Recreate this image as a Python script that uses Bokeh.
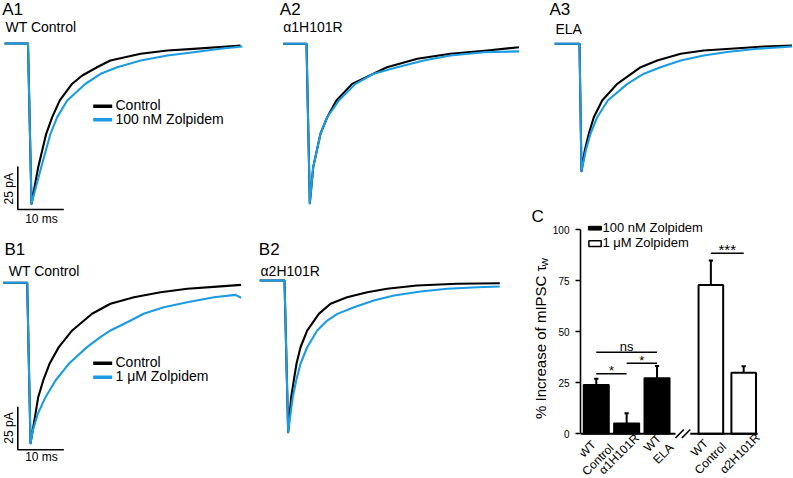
import math
from bokeh.plotting import figure
from bokeh.layouts import column, row
from bokeh.models import FixedTicker, Range1d
from bokeh.core.properties import value
from bokeh.embed import file_html
from bokeh.resources import INLINE

FONT = "Liberation Sans"
BLACK = "#000000"
BLUE = "#1a9be4"

# ---------------- trace data (time in ms, current in pA) ----------------
A1_CTRL_T = [-5.1, 0, 0.76, 2.22, 3.96, 5.26, 6.91, 9.61, 11.8, 15.0, 17.9, 24.5, 30.3, 36.0, 43.3, 46.2]
A1_CTRL_I = [0, 0, -93.2, -71.9, -52.5, -42.8, -33.1, -23.4, -18.6, -13.8, -9.9, -6.0, -4.1, -3.1, -1.7, -1.2]
A1_ZOL_T = [-5.1, 0, 0.76, 2.87, 4.89, 6.35, 8.52, 12.5, 15.8, 19.4, 24.5, 30.3, 36.0, 41.8, 46.6]
A1_ZOL_I = [0, 0, -93.2, -71.9, -52.5, -42.8, -33.1, -23.4, -17.6, -13.8, -9.9, -7.0, -5.1, -3.1, -1.7]

A2_CTRL_T = [-5.07, 0, 0.72, 1.46, 3.04, 4.5, 6.5, 9.93, 17.5, 24.1, 31.3, 39.3, 46.2]
A2_CTRL_I = [0, 0, -92.7, -71.7, -52.3, -42.7, -33.0, -23.3, -13.6, -8.7, -5.8, -3.9, -2.0]
A2_ZOL_T = [-5.07, 0, 0.72, 1.46, 3.04, 4.5, 7.02, 10.65, 14.6, 19.7, 25.5, 31.3, 38.5, 46.2]
A2_ZOL_I = [0, 0, -92.7, -71.7, -52.3, -42.7, -33.0, -23.3, -17.4, -13.6, -9.7, -6.8, -4.9, -4.4]

A3_CTRL_T = [-5.4, 0, 0.43, 1.15, 2.02, 3.11, 4.93, 8.2, 13.3, 16.9, 22.0, 27.0, 32.8, 40.1, 46.2]
A3_CTRL_I = [0, 0, -74.1, -62.0, -52.3, -42.7, -33.0, -23.3, -13.6, -9.7, -5.8, -3.9, -2.9, -1.6, -1.0]
A3_ZOL_T = [-5.4, 0, 0.43, 1.37, 2.39, 3.85, 6.15, 10.4, 14.0, 17.6, 22.0, 27.0, 32.1, 38.6, 46.2]
A3_ZOL_I = [0, 0, -74.1, -62.0, -52.3, -42.7, -33.0, -23.3, -17.4, -13.6, -9.7, -6.8, -4.8, -2.9, -1.6]

B1_CTRL_T = [-5.2, 0, 0.72, 1.8, 2.39, 3.48, 4.85, 6.87, 9.78, 14.1, 18.1, 23.2, 29.0, 34.8, 41.3, 46.5]
B1_CTRL_I = [0, 0, -93.3, -76.2, -66.5, -56.8, -47.1, -37.4, -27.7, -18.0, -12.2, -8.4, -5.5, -3.5, -2.2, -1.2]
B1_ZOL_T = [-5.2, 0, 0.72, 1.22, 2.3, 3.98, 6.15, 9.04, 13.0, 15.9, 18.1, 22.5, 25.3, 29.7, 34.8, 40.6, 45.3, 46.5]
B1_ZOL_I = [0, 0, -93.3, -85.9, -76.2, -66.5, -56.8, -47.1, -37.4, -31.6, -27.7, -21.9, -18.0, -14.2, -11.3, -8.4, -7.0, -8.7]

B2_CTRL_T = [-5.4, 0, 0.8, 1.46, 2.02, 2.61, 3.48, 4.93, 7.46, 10.0, 13.6, 18.0, 22.3, 28.8, 37.5, 46.8]
B2_CTRL_I = [0, 0, -88.2, -67.8, -58.1, -48.4, -38.8, -29.1, -19.4, -13.5, -9.7, -6.8, -4.8, -2.9, -1.9, -1.6]
B2_ZOL_T = [-5.4, 0, 0.8, 1.3, 1.8, 2.54, 3.48, 4.93, 7.1, 9.28, 11.5, 15.1, 19.4, 23.8, 29.6, 35.4, 41.9, 46.8]
B2_ZOL_I = [0, 0, -88.2, -77.5, -67.8, -58.1, -48.4, -38.8, -29.1, -23.3, -19.4, -15.5, -11.6, -8.7, -6.4, -4.8, -3.9, -3.5]

SCALE_MS = 10
SCALE_PA = 25

# ---------------- bar chart data (panel C) ----------------
BAR_LABELS = ["WT\nControl", "\u03b11H101R", "WT\nELA", "WT\nControl", "\u03b12H101R"]
TAU_100NM = [24.0, 5.2, 27.3]
SEM_100NM = [3.0, 4.9, 5.9]
TAU_1UM = [73.0, 29.9]
SEM_1UM = [12.0, 3.2]
SIG_PAIRS = [(0, 1, "*"), (1, 2, "*"), (0, 2, "ns"), (3, 4, "***")]
SIG_LEVEL = [29.4, 34.6, 40.0, 88.5]
Y_TICKS = [0, 25, 50, 75, 100]

# ---------------- layout (page px) ----------------
PAGE_W, PAGE_H = 792, 477

MS_PX = 4.6   # px per ms
PA_PX = 1.72  # px per pA


class TracePanel:
    def __init__(self, pl, pr, pt, pb, onset_px, base_py):
        self.pl, self.pt = pl, pt
        W, H = pr - pl, pb - pt
        self.fx0 = onset_px - pl
        self.fy0 = base_py - pt
        x0 = -self.fx0 / MS_PX
        x1 = (W - self.fx0) / MS_PX
        y1 = self.fy0 / PA_PX
        y0 = -(H - self.fy0) / PA_PX
        self.p = figure(width=W, height=H, x_range=Range1d(x0, x1), y_range=Range1d(y0, y1),
                        x_axis_type=None, y_axis_type=None, toolbar_location=None,
                        output_backend="svg", min_border=0, outline_line_color=None)

    def dx(self, px):
        return (px - self.pl - self.fx0) / MS_PX

    def dy(self, py):
        return -(py - self.pt - self.fy0) / PA_PX

    def text(self, px, py, s, size, align="left", angle=0.0):
        self.p.text(x=[self.dx(px)], y=[self.dy(py)], text=[s], text_font=value(FONT),
                    text_font_size=value(f"{size}px"), text_align=align,
                    text_baseline="middle", angle=angle, text_color=BLACK)

    def traces(self, t1, i1, t2, i2):
        self.p.line(t1, i1, line_color=BLACK, line_width=2.1, line_join="round")
        self.p.line(t2, i2, line_color=BLUE, line_width=2.1, line_join="round")

    def legend(self, py1, py2, label1, label2):
        for py, col, lab in ((py1, BLACK, label1), (py2, BLUE, label2)):
            self.p.line([self.dx(92.7), self.dx(111.7)], [self.dy(py), self.dy(py)],
                        line_color=col, line_width=3.5)
            self.text(115, py - 1, lab, 14)

    def scalebar(self, cpx, cpy, py_pa_label, py_ms_label):
        cx, cy = self.dx(cpx), self.dy(cpy)
        self.p.line([cx, cx, cx + SCALE_MS], [cy + SCALE_PA, cy, cy],
                    line_color=BLACK, line_width=1.6)
        self.text(8.3, py_pa_label, f"{SCALE_PA} pA", 12, align="center", angle=math.pi / 2)
        self.text(41, py_ms_label, f"{SCALE_MS} ms", 12, align="center")


# ---- column 1 ----
a1 = TracePanel(0, 250, 0, 230, 27.5, 43)
a1.traces(A1_CTRL_T, A1_CTRL_I, A1_ZOL_T, A1_ZOL_I)
a1.text(1.7, 8.8, "A1", 17)
a1.text(5, 26.5, "WT Control", 14)
a1.legend(105.8, 119.3, "Control", "100 nM Zolpidem")
a1.scalebar(17.3, 209, 188.3, 218)

b1 = TracePanel(0, 250, 230, PAGE_H, 26.7, 282.3)
b1.traces(B1_CTRL_T, B1_CTRL_I, B1_ZOL_T, B1_ZOL_I)
b1.text(4, 248.8, "B1", 17)
b1.text(8.3, 270.2, "WT Control", 14)
b1.legend(362.7, 376.7, "Control", "1 \u03bcM Zolpidem")
b1.scalebar(17.3, 449.3, 427.5, 456.7)

# ---- column 2 ----
a2 = TracePanel(250, 525, 0, 230, 306, 43.3)
a2.traces(A2_CTRL_T, A2_CTRL_I, A2_ZOL_T, A2_ZOL_I)
a2.text(279.3, 8.8, "A2", 17)
a2.text(282.7, 26.5, "\u03b11H101R", 14)

b2 = TracePanel(250, 525, 230, PAGE_H, 284, 280)
b2.traces(B2_CTRL_T, B2_CTRL_I, B2_ZOL_T, B2_ZOL_I)
b2.text(258.3, 248.8, "B2", 17)
b2.text(260, 270.2, "\u03b12H101R", 14)

# ---- column 3 ----
a3 = TracePanel(525, PAGE_W, 0, 205, 579, 43.3)
a3.traces(A3_CTRL_T, A3_CTRL_I, A3_ZOL_T, A3_ZOL_I)
a3.text(549, 9.2, "A3", 17)
a3.text(555, 28.7, "ELA", 14)

# ---- C: narrow text strip (panel letter + y title) ----
S_L, S_R, C_T = 525, 549, 205
strip = figure(width=S_R - S_L, height=PAGE_H - C_T,
               x_range=Range1d(S_L, S_R), y_range=Range1d(-PAGE_H, -C_T),
               x_axis_type=None, y_axis_type=None, toolbar_location=None,
               output_backend="svg", min_border=0, outline_line_color=None)
strip.text(x=[531], y=[-215.5], text=["C"], text_font=value(FONT), text_font_size=value("17px"),
           text_align="left", text_baseline="middle", text_color=BLACK)
strip.text(x=[539.8], y=[-265], text=["% Increase of mIPSC \u03c4"], text_font=value(FONT),
           text_font_size=value("15px"), text_align="right", text_baseline="middle",
           angle=math.pi / 2, text_color=BLACK)
strip.text(x=[544.8], y=[-261.8], text=["W"], text_font=value(FONT),
           text_font_size=value("9px"), text_align="center", text_baseline="middle",
           angle=math.pi / 2, text_color=BLACK)

# ---- C: bar chart ----
C_X0, C_UNIT = 562.2, 30.8     # px of x=0 and px per slot
C_Y0, C_YUNIT = 433.3, 2.04    # px of y=0 and px per %


def cx(px):
    return (px - C_X0) / C_UNIT


def cy(py):
    return (C_Y0 - py) / C_YUNIT


BAR_POS = [1.0, 2.0, 3.0, 4.773, 5.854]

FRAME_L = 577
xr = Range1d(cx(FRAME_L), cx(PAGE_W))
yr = Range1d(cy(PAGE_H), cy(C_T))

c = figure(width=PAGE_W - S_R, height=PAGE_H - C_T, x_range=xr, y_range=yr, x_axis_type=None,
           toolbar_location=None, output_backend="svg", min_border_left=FRAME_L - S_R,
           min_border_right=0, min_border_top=0, min_border_bottom=0,
           outline_line_color=None)
c.grid.visible = False
ya = c.yaxis[0]
ya.ticker = FixedTicker(ticks=Y_TICKS)
ya.bounds = (0, 100)
ya.major_tick_in = 0
ya.major_tick_out = 5
ya.minor_tick_in = 0
ya.minor_tick_out = 0
ya.axis_line_width = 1.6
ya.major_tick_line_width = 1.4
ya.major_label_text_font_size = "10px"
ya.major_label_text_font = FONT
ya.major_label_text_color = BLACK
ya.major_label_standoff = 6

# bars
c.vbar(x=BAR_POS[:3], top=TAU_100NM, width=0.84, fill_color=BLACK, line_color=BLACK, line_width=1.5)
c.vbar(x=BAR_POS[3:], top=TAU_1UM, width=0.81, fill_color="white", line_color=BLACK, line_width=2)

# error bars (upper only)
tops = TAU_100NM + TAU_1UM
sems = SEM_100NM + SEM_1UM
ends = [t + s for t, s in zip(tops, sems)]
c.segment(x0=BAR_POS, y0=tops, x1=BAR_POS, y1=ends, line_color=BLACK, line_width=2)
c.segment(x0=[x - 0.07 for x in BAR_POS], x1=[x + 0.07 for x in BAR_POS],
          y0=ends, y1=ends, line_color=BLACK, line_width=2)

# broken x axis line
c.segment(x0=[xr.start, cx(688.3)], x1=[cx(673.3), cx(756.7)], y0=[0, 0], y1=[0, 0],
          line_color=BLACK, line_width=2)
c.segment(x0=[cx(673.3), cx(679.8)], y0=[cy(437.5), cy(437.5)],
          x1=[cx(681.8), cx(688.3)], y1=[cy(429.0), cy(429.0)],
          line_color=BLACK, line_width=1.6)

# significance
for (i, j, s), lvl in zip(SIG_PAIRS, SIG_LEVEL):
    c.segment(x0=[BAR_POS[i]], x1=[BAR_POS[j]], y0=[lvl], y1=[lvl], line_color=BLACK, line_width=1.6)
    mid = (BAR_POS[i] + BAR_POS[j]) / 2
    if s == "ns":
        ty, fs = lvl + 3.0, "13px"
    elif s == "***":
        ty, fs = lvl + 2.0, "15px"
    else:
        ty, fs = lvl + 1.4, "13px"
    c.text(x=[mid], y=[ty], text=[s], text_font=value(FONT), text_font_size=value(fs),
           text_align="center", text_baseline="alphabetic", text_color=BLACK)

# category labels (rotated)
LBL_PX = [(589.3, 453.8), (616.0, 453.6), (655.5, 447.8), (703.2, 452.6), (738.6, 453.0)]
c.text(x=[cx(px) for px, _ in LBL_PX], y=[cy(py) for _, py in LBL_PX], text=BAR_LABELS,
       text_font=value(FONT), text_font_size=value("12px"), text_align="center",
       text_baseline="middle", angle=math.pi / 4, text_color=BLACK, text_line_height=1.08)

# legend
c.quad(left=[cx(585)], right=[cx(598.3)], bottom=[cy(229.6)], top=[cy(225.8)],
       fill_color=BLACK, line_color=BLACK, line_width=1)
c.quad(left=[cx(585.5)], right=[cx(598.0)], bottom=[cy(246)], top=[cy(240.3)],
       fill_color="white", line_color=BLACK, line_width=1.5)
c.text(x=[cx(599.3), cx(599.3)], y=[cy(227.2), cy(242.4)],
       text=["100 nM Zolpidem", "1 \u03bcM Zolpidem"], text_font=value(FONT),
       text_font_size=value("13px"), text_align="left", text_baseline="middle", text_color=BLACK)

layout = row(column(a1.p, b1.p), column(a2.p, b2.p), column(a3.p, row(strip, c)))
open("out.html", "w").write(file_html(layout, INLINE))
